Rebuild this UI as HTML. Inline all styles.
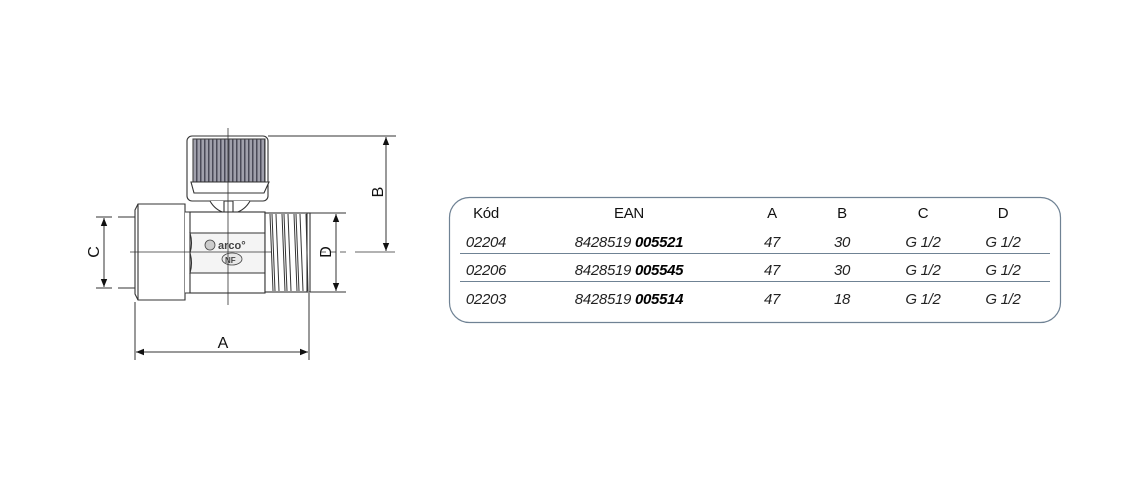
<!DOCTYPE html>
<html><head><meta charset="utf-8"><style>
html,body{margin:0;padding:0;background:#fff;}
svg{display:block;}
text{font-family:"Liberation Sans","DejaVu Sans",sans-serif;}
</style></head><body>
<svg width="1127" height="500" viewBox="0 0 1127 500" xmlns="http://www.w3.org/2000/svg">
<defs>
<marker id="ar" viewBox="0 0 10 10" refX="10" refY="5" markerWidth="13" markerHeight="8" orient="auto-start-reverse" markerUnits="userSpaceOnUse"><path d="M0,1 L10,5 L0,9 z" fill="#111"/></marker>
<pattern id="st" width="4" height="10" patternUnits="userSpaceOnUse"><rect width="4" height="10" fill="#a0a0ac"/><rect width="1.5" height="10" fill="#4a4a58"/></pattern>
</defs>
<g stroke="#333" fill="none" stroke-width="1.1">
<rect x="187" y="136" width="81" height="65" rx="5" fill="#fff"/>
<rect x="193" y="139" width="72" height="43" fill="url(#st)" stroke="#444"/>
<path d="M191 182 L269 182 L264 193 L194 193 Z" fill="#fff"/>
<path d="M210 201 Q215 210 225 213 L235 213 Q245 210 250 201" fill="#fff"/>
<rect x="224" y="201" width="9" height="13" fill="#fff"/>
<path d="M135 210 L138 204 L185 204 L185 300 L138 300 L135 294 Z" fill="#fff"/>
<line x1="138" y1="204" x2="138" y2="300"/>
<path d="M185 212 L192 212 L192 293 L185 293" fill="#fff"/>
<rect x="190" y="212" width="75" height="81" fill="#fff"/>
<path d="M190 233 L265 233 L265 273 L190 273 Q193 263 190 253 Q193 243 190 233 Z" fill="#f4f4f4"/>
<rect x="265" y="213" width="45" height="79" fill="#fff"/>
<g stroke-width="1">
<path d="M270 214 L273 291 M276 214 L279 291 M282 214 L285 291 M288 214 L291 291 M294 214 L297 291 M300 214 L303 291 M306 214 L308 291"/>
<path d="M272 214 L275 291 M284 214 L287 291 M296 214 L299 291"/>
</g>
<line x1="307" y1="213" x2="307" y2="292"/>
</g>
<g fill="#555" stroke="#444" stroke-width="0.8">
<circle cx="210" cy="245" r="5" fill="#ccc"/>
<ellipse cx="232" cy="259" rx="10" ry="6" fill="#e8e8e8"/>
</g>
<text x="218" y="249" font-size="11" fill="#444" font-weight="bold">arco°</text>
<text x="225" y="263" font-size="8" fill="#444" font-weight="bold">NF</text>
<g stroke="#333" stroke-width="0.8">
<line x1="130" y1="252" x2="272" y2="252"/>
<line x1="228" y1="128" x2="228" y2="305"/>
<line x1="320" y1="252" x2="350" y2="252" stroke-dasharray="6,4"/>
<line x1="355" y1="252" x2="395" y2="252"/>
</g>
<g stroke="#333" stroke-width="1">
<line x1="268" y1="136" x2="396" y2="136"/>
<line x1="386" y1="137" x2="386" y2="251" marker-start="url(#ar)" marker-end="url(#ar)"/>
<line x1="96" y1="217" x2="112" y2="217"/><line x1="118" y1="217" x2="135" y2="217"/>
<line x1="96" y1="288" x2="112" y2="288"/><line x1="118" y1="288" x2="135" y2="288"/>
<line x1="104" y1="218" x2="104" y2="287" marker-start="url(#ar)" marker-end="url(#ar)"/>
<line x1="310" y1="213" x2="346" y2="213"/>
<line x1="310" y1="292" x2="346" y2="292"/>
<line x1="336" y1="214" x2="336" y2="291" marker-start="url(#ar)" marker-end="url(#ar)"/>
<line x1="135" y1="302" x2="135" y2="360"/>
<line x1="309" y1="293" x2="309" y2="360"/>
<line x1="136" y1="352" x2="308" y2="352" marker-start="url(#ar)" marker-end="url(#ar)"/>
</g>
<g font-size="16" fill="#111">
<text x="223" y="348" text-anchor="middle">A</text>
<text transform="translate(383,192) rotate(-90)" text-anchor="middle">B</text>
<text transform="translate(99,252) rotate(-90)" text-anchor="middle">C</text>
<text transform="translate(331,252) rotate(-90)" text-anchor="middle">D</text>
</g>
<rect x="449.5" y="197.5" width="611" height="125" rx="20" fill="none" stroke="#6f8294" stroke-width="1.2"/>
<line x1="460" y1="253.5" x2="1050" y2="253.5" stroke="#6f8294" stroke-width="1"/>
<line x1="460" y1="281.5" x2="1050" y2="281.5" stroke="#6f8294" stroke-width="1"/>
<g font-size="15" fill="#111" text-anchor="middle" letter-spacing="-0.3">
<text x="486" y="218">Kód</text>
<text x="629" y="218">EAN</text>
<text x="772" y="218">A</text>
<text x="842" y="218">B</text>
<text x="923" y="218">C</text>
<text x="1003" y="218">D</text>
</g>
<g font-size="15" fill="#222" font-style="italic" text-anchor="middle" letter-spacing="-0.3">
<text x="486" y="247">02204</text>
<text x="629" y="247">8428519 <tspan font-weight="bold" fill="#000">005521</tspan></text>
<text x="772" y="247">47</text><text x="842" y="247">30</text>
<text x="923" y="247">G 1/2</text><text x="1003" y="247">G 1/2</text>
<text x="486" y="275">02206</text>
<text x="629" y="275">8428519 <tspan font-weight="bold" fill="#000">005545</tspan></text>
<text x="772" y="275">47</text><text x="842" y="275">30</text>
<text x="923" y="275">G 1/2</text><text x="1003" y="275">G 1/2</text>
<text x="486" y="304">02203</text>
<text x="629" y="304">8428519 <tspan font-weight="bold" fill="#000">005514</tspan></text>
<text x="772" y="304">47</text><text x="842" y="304">18</text>
<text x="923" y="304">G 1/2</text><text x="1003" y="304">G 1/2</text>
</g>
</svg>
</body></html>
